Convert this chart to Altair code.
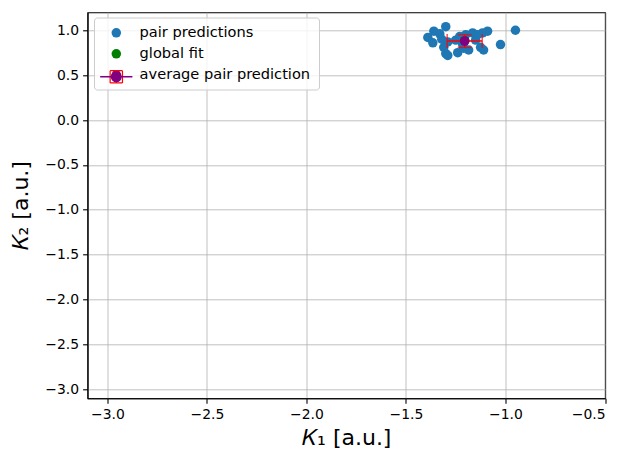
import altair as alt
import pandas as pd

# ---- data ----
pair_k1 = [-1.30, -0.95, -1.025, -1.39, -1.36, -1.33, -1.365, -1.31, -1.30, -1.29,
           -1.24, -1.185, -1.20, -1.165, -1.115, -1.09, -1.125, -1.11, -1.25, -1.15,
           -1.215, -1.29, -1.23, -1.14, -1.21, -1.32]
pair_k2 = [1.04, 1.00, 0.84, 0.92, 0.99, 0.96, 0.86, 0.81, 0.74, 0.72,
           0.75, 0.78, 0.95, 0.97, 0.97, 0.99, 0.81, 0.78, 0.89, 0.89,
           0.84, 0.87, 0.93, 0.95, 0.80, 0.90]
global_k1 = [-1.205]
global_k2 = [0.885]
avg_k1 = [-1.205]
avg_k2 = [0.88]
avg_err_k1 = [0.088]
avg_err_k2 = [0.07]

labels = ["pair predictions", "global fit", "average pair prediction"]
colors = ["#1f77b4", "green", "purple"]
x_ticks = [-3.0, -2.5, -2.0, -1.5, -1.0, -0.5]
y_ticks = [-3.0, -2.5, -2.0, -1.5, -1.0, -0.5, 0.0, 0.5, 1.0]
x_domain = [-3.1, -0.5]
y_domain = [-3.1, 1.2]

pair_df = pd.DataFrame({"k1": pair_k1, "k2": pair_k2, "label": labels[0]})
glob_df = pd.DataFrame({"k1": global_k1, "k2": global_k2, "label": labels[1]})
avg_df = pd.DataFrame({"k1": avg_k1, "k2": avg_k2, "label": labels[2],
                       "err_key": "avg_err", "line_key": "avg_line"})
avg_df["k1_lo"] = avg_df["k1"] - pd.Series(avg_err_k1)
avg_df["k1_hi"] = avg_df["k1"] + pd.Series(avg_err_k1)
avg_df["k2_lo"] = avg_df["k2"] - pd.Series(avg_err_k2)
avg_df["k2_hi"] = avg_df["k2"] + pd.Series(avg_err_k2)

FONT = "DejaVu Sans"
LX, LY, ROW = 6.5, 5.2, 22
common = dict(orient="none", legendX=LX, padding=8, symbolOffset=7, labelOffset=16,
              rowPadding=6, symbolSize=90, labelFontSize=14.6, labelFont=FONT,
              labelLimit=400)

xs = alt.Scale(domain=x_domain, nice=False, zero=False)
ys = alt.Scale(domain=y_domain, nice=False, zero=False)
x_axis = alt.Axis(values=x_ticks, format=".1f", title="𝐾₁ [a.u.]")
y_axis = alt.Axis(values=y_ticks, format=".1f", title="𝐾₂ [a.u.]")

color_legend = alt.Legend(
    title=None, legendY=LY, labelColor="black", symbolType="circle",
    fillColor="rgba(255,255,255,0.8)", strokeColor="#cccccc", cornerRadius=3,
    zindex=1, **common,
)
color_enc = alt.Color("label:N", scale=alt.Scale(domain=labels, range=colors),
                      legend=color_legend)

err_legend = alt.Legend(
    title=None, legendY=LY + 2 * ROW, labelExpr="''",
    symbolType="M-1.3,-1.3H1.3M1.3,-1.3V1.3M1.3,1.3H-1.3M-1.3,1.3V-1.3M0,-1.3V1.3",
    symbolFillColor="transparent", symbolStrokeWidth=1.2,
    fillColor="transparent", strokeColor="transparent", zindex=2, **common,
)
err_enc = alt.Stroke("err_key:N", scale=alt.Scale(domain=["avg_err"], range=["red"]),
                     legend=err_legend)

line_legend = alt.Legend(
    title=None, legendY=LY + 2 * ROW, labelExpr="''",
    symbolType="M-3.4,0H3.4M1,0A1,1 0 1,1 -1,0A1,1 0 1,1 1,0Z",
    symbolFillColor="purple", symbolStrokeColor="purple", symbolStrokeWidth=1.5,
    fillColor="transparent", strokeColor="transparent", zindex=3, **common,
)
line_enc = alt.Opacity("line_key:N", scale=alt.Scale(domain=["avg_line"], range=[1]),
                       legend=line_legend)

pairs = alt.Chart(pair_df).mark_circle(size=90, opacity=1).encode(
    x=alt.X("k1:Q", scale=xs, axis=x_axis),
    y=alt.Y("k2:Q", scale=ys, axis=y_axis),
    color=color_enc,
)
glob = alt.Chart(glob_df).mark_circle(size=90, opacity=1).encode(
    x="k1:Q", y="k2:Q", color=color_enc)

base_avg = alt.Chart(avg_df)
err_x = base_avg.mark_rule(strokeWidth=1.5).encode(
    x="k1_lo:Q", x2="k1_hi:Q", y="k2:Q", stroke=err_enc)
err_y = base_avg.mark_rule(strokeWidth=1.5).encode(
    y="k2_lo:Q", y2="k2_hi:Q", x="k1:Q", stroke=err_enc)
tick = dict(size=14, thickness=1.5, color="red")
cap_l = base_avg.mark_tick(orient="vertical", **tick).encode(x="k1_lo:Q", y="k2:Q")
cap_r = base_avg.mark_tick(orient="vertical", **tick).encode(x="k1_hi:Q", y="k2:Q")
cap_b = base_avg.mark_tick(orient="horizontal", **tick).encode(x="k1:Q", y="k2_lo:Q")
cap_t = base_avg.mark_tick(orient="horizontal", **tick).encode(x="k1:Q", y="k2_hi:Q")
avg_pt = base_avg.mark_circle(size=95).encode(
    x="k1:Q", y="k2:Q", color=color_enc, opacity=line_enc)

chart = alt.layer(pairs, glob, err_x, err_y, cap_l, cap_r, cap_b, cap_t, avg_pt).properties(
    width=517.5, height=386,
    autosize=alt.AutoSizeParams(type="none"),
    padding={"left": 87.5, "top": 12.3, "right": 18, "bottom": 52.7},
    background="white",
).configure_view(
    stroke="black", strokeWidth=1.1,
).configure_axis(
    labelFont=FONT, labelFontSize=13.9, labelColor="black",
    titleFont=FONT, titleFontSize=22, titleFontWeight="normal", titleColor="black",
    grid=True, gridColor="#b0b0b0", gridWidth=0.8,
    domainColor="black", domainWidth=1.1,
    tickColor="black", tickSize=4.9, tickWidth=1.1, labelPadding=4,
).configure_axisX(
    titlePadding=6,
).configure_axisY(
    titlePadding=12,
)

chart.save("out.html", embed_options={"renderer": "svg", "actions": False})
